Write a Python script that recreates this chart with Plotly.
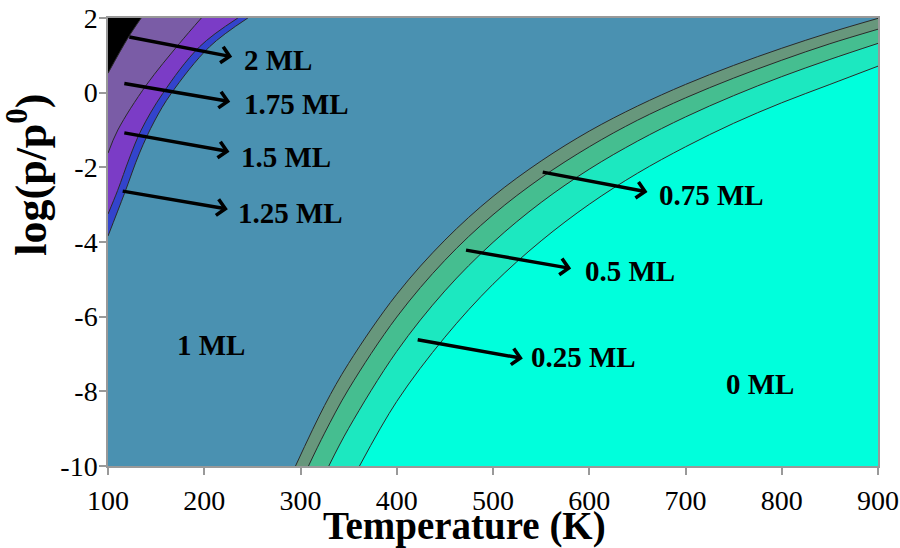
import plotly.graph_objects as go

# ---- boundary curves (Temperature K, log(p/p0)) ----
# right-hand family (ordered by increasing T)
T_A = [294.8, 325, 350, 400, 450, 500, 550, 600, 650, 700, 750, 800, 850, 900]   # 1 ML | 0.75 ML
P_A = [-10.0, -8.38, -7.25, -5.40, -3.95, -2.78, -1.83, -1.03, -0.36, 0.22, 0.73, 1.19, 1.61, 1.99]
T_B = [308.3, 325, 350, 400, 450, 500, 550, 600, 650, 700, 750, 800, 850, 900]   # 0.75 | 0.5
P_B = [-10.0, -9.12, -7.94, -6.01, -4.49, -3.27, -2.28, -1.45, -0.74, -0.14, 0.39, 0.87, 1.31, 1.70]
T_C = [329.4, 350, 400, 450, 500, 550, 600, 650, 700, 750, 800, 850, 900]        # 0.5 | 0.25
P_C = [-10.0, -8.99, -6.93, -5.31, -4.01, -2.94, -2.05, -1.30, -0.65, -0.08, 0.43, 0.89, 1.32]
T_D = [361.3, 400, 450, 500, 550, 600, 650, 700, 750, 800, 850, 900]             # 0.25 | 0
P_D = [-10.0, -8.27, -6.55, -5.13, -3.97, -2.99, -2.16, -1.45, -0.82, -0.27, 0.22, 0.71]

# left-hand family (ordered by increasing T)
T_H = [100.0, 117.1, 132.7, 148.3, 165.7, 205.5, 245.3]   # 1 | 1.25
P_H = [-3.84, -2.70, -1.62, -0.76, -0.02, 1.23, 2.0]
T_G = [100.0, 110.0, 122.3, 134.5, 156.9, 195.1, 234.9]   # 1.25 | 1.5
P_G = [-3.25, -2.62, -1.75, -1.0, -0.02, 1.23, 2.0]
T_F = [100.0, 110.2, 139.7, 174.3, 197.0]                 # 1.5 | 1.75
P_F = [-1.62, -1.0, 0.20, 1.32, 2.0]
T_E = [100.0, 120.6, 134.5]                               # 1.75 | 2
P_E = [0.52, 1.46, 2.0]

# ---- labels ----
region_labels = ["1 ML", "0 ML"]
region_T = [207.5, 776.9]
region_P = [-6.76, -7.80]

arrow_labels = ["2 ML", "1.75 ML", "1.5 ML", "1.25 ML", "0.75 ML", "0.5 ML", "0.25 ML"]
arrow_tail_T = [120.6, 115.4, 115.4, 113.7, 550.1, 470.4, 420.2]
arrow_tail_P = [1.50, 0.25, -1.07, -2.63, -2.12, -4.21, -6.61]
arrow_tip_T = [229.0, 227.0, 226.2, 224.5, 660.5, 581.2, 531.0]
arrow_tip_P = [0.96, -0.24, -1.58, -3.12, -2.66, -4.71, -7.12]
label_T = [239.7, 239.7, 236.6, 232.5, 670.9, 594.0, 537.9]
label_P = [0.875, -0.30, -1.72, -3.22, -2.74, -4.79, -7.08]

x_ticks = [100, 200, 300, 400, 500, 600, 700, 800, 900]
y_ticks = [-10, -8, -6, -4, -2, 0, 2]
x_title = "<b>Temperature (K)</b>"
y_title = "<b>log(p/p<sup>0</sup>)</b>"

# ---- colours ----
C_1 = "#4A91B1"
C_0 = "#00FFDC"
C_025 = "#1CE8C0"
C_05 = "#45BE90"
C_075 = "#67977C"
C_125 = "#3344CC"
C_15 = "#7B3CC6"
C_175 = "#7A5CA6"
C_2 = "#000000"
EDGE = "#2a2a2a"
FONT = "Liberation Serif, Times New Roman, serif"

fig = go.Figure()


def add_region(Tc, Pc, base_y, fillcolor, right_side):
    # invisible baseline that closes the filled polygon
    if right_side:
        bx = [Tc[0], 900]
    else:
        bx = [100, Tc[-1]]
    fig.add_trace(go.Scatter(x=bx, y=[base_y, base_y], mode="lines",
                             line=dict(width=0, color="rgba(0,0,0,0)"),
                             hoverinfo="skip", showlegend=False))
    fig.add_trace(go.Scatter(x=Tc, y=Pc, mode="lines", fill="tonexty",
                             fillcolor=fillcolor,
                             line=dict(color=EDGE, width=1, shape="spline", smoothing=1.0),
                             hoverinfo="skip", showlegend=False))


# right-hand regions (outer to inner)
add_region(T_A, P_A, -10, C_075, True)
add_region(T_B, P_B, -10, C_05, True)
add_region(T_C, P_C, -10, C_025, True)
add_region(T_D, P_D, -10, C_0, True)
# left-hand regions (outer to inner)
add_region(T_H, P_H, 2, C_125, False)
add_region(T_G, P_G, 2, C_15, False)
add_region(T_F, P_F, 2, C_175, False)
add_region(T_E, P_E, 2, C_2, False)

annotations = []
for i, lab in enumerate(arrow_labels):
    annotations.append(dict(x=arrow_tip_T[i], y=arrow_tip_P[i], xref="x", yref="y",
                            ax=arrow_tail_T[i], ay=arrow_tail_P[i], axref="x", ayref="y",
                            text="", showarrow=True, arrowhead=4, arrowsize=0.9,
                            arrowwidth=3.5, arrowcolor="#000000"))
    annotations.append(dict(x=label_T[i], y=label_P[i], xref="x", yref="y",
                            text="<b>%s</b>" % lab, showarrow=False, xanchor="left",
                            yanchor="middle",
                            font=dict(family=FONT, size=29, color="#000000")))
for i, lab in enumerate(region_labels):
    annotations.append(dict(x=region_T[i], y=region_P[i], xref="x", yref="y",
                            text="<b>%s</b>" % lab, showarrow=False,
                            font=dict(family=FONT, size=29, color="#000000")))

# axis titles placed as annotations to match the reference positions
annotations.append(dict(x=0.4636, y=-0.134, xref="paper", yref="paper",
                        text=x_title, showarrow=False, xanchor="center", yanchor="middle",
                        font=dict(family=FONT, size=39, color="#000000")))
annotations.append(dict(x=-0.104, y=0.65, xref="paper", yref="paper",
                        text=y_title, showarrow=False, xanchor="center", yanchor="middle",
                        textangle=-90,
                        font=dict(family=FONT, size=44, color="#000000")))

fig.update_layout(
    width=900, height=548,
    margin=dict(l=108, r=22, t=18, b=82),
    paper_bgcolor="#FFFFFF",
    plot_bgcolor=C_1,
    font=dict(family=FONT, color="#000000"),
    annotations=annotations,
    showlegend=False,
)
fig.update_xaxes(range=[100, 900], tickvals=x_ticks, ticktext=[str(v) for v in x_ticks],
                 ticks="outside", ticklen=7, tickcolor="#999999", tickwidth=1.5,
                 ticklabelstandoff=2, ticklabeloverflow="allow",
                 showline=True, linecolor="#999999", linewidth=1.5, mirror=True,
                 showgrid=False, zeroline=False, automargin=False,
                 tickfont=dict(family=FONT, size=28, color="#000000"))
fig.update_yaxes(range=[-10, 2], tickvals=y_ticks, ticktext=[str(v) for v in y_ticks],
                 ticks="outside", ticklen=7, tickcolor="#999999", tickwidth=1.5,
                 ticklabelstandoff=-4, ticklabeloverflow="allow",
                 showline=True, linecolor="#999999", linewidth=1.5, mirror=True,
                 showgrid=False, zeroline=False, automargin=False,
                 tickfont=dict(family=FONT, size=28, color="#000000"))

# remove the browser's default 8px body margin so the figure sits at the page origin
fig.write_html("out.html", config={"displayModeBar": False},
               post_script="document.body.style.margin='0px';")
